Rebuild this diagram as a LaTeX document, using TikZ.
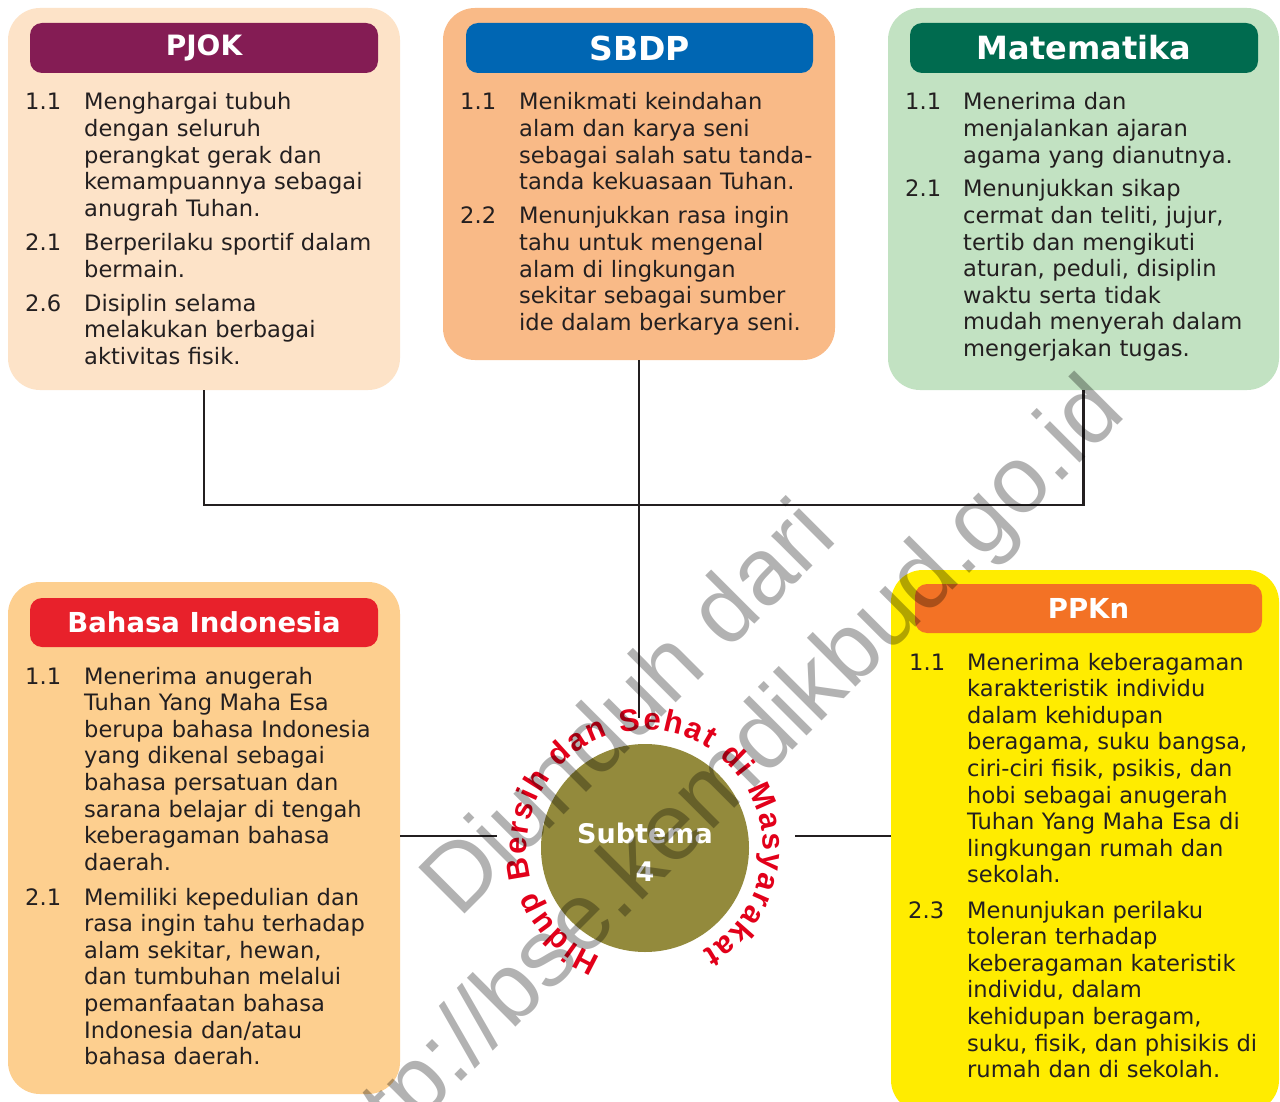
\documentclass[tikz,border=0pt]{standalone}
\usepackage{fontspec}
\setmainfont{DejaVu Sans}
\newfontfamily\wmfont{Liberation Sans}
\newfontfamily\ringfont{Liberation Sans}
\usetikzlibrary{decorations.text}
\definecolor{ink}{HTML}{231F20}
\definecolor{pjokbg}{HTML}{FDE3C8}
\definecolor{pjokhd}{HTML}{841C54}
\definecolor{sbdpbg}{HTML}{F9BA87}
\definecolor{sbdphd}{HTML}{0066B3}
\definecolor{matbg}{HTML}{C2E2C2}
\definecolor{mathd}{HTML}{006B4F}
\definecolor{bibg}{HTML}{FDCF8F}
\definecolor{bihd}{HTML}{E8212B}
\definecolor{ppbg}{HTML}{FFEC00}
\definecolor{pphd}{HTML}{F37225}
\definecolor{subol}{HTML}{938A3C}
\definecolor{hsred}{HTML}{E2001A}
\newcommand\itemfont{\fontsize{22.6}{26.6}\selectfont}
\newcommand\circstyle{\ringfont\fontsize{31}{34}\selectfont\bfseries\color{hsred}}
\tikzset{
 panel/.style={rounded corners=32pt, inner sep=0pt, outer sep=0pt, anchor=north west},
 hdr/.style={rounded corners=12pt, anchor=north west, text=white, inner sep=0pt, outer sep=0pt},
 num/.style={anchor=base west, inner sep=0pt, font=\itemfont, text=ink},
 itm/.style={anchor=base west, inner sep=0pt, font=\itemfont, text=ink, text width=360pt, align=left},
 link/.style={draw=ink, line width=2.5pt},
 wm/.style={rotate=45, anchor=base, text=black, text opacity=0.3, inner sep=0pt, font=\wmfont\fontsize{95}{95}\selectfont},
}
\begin{document}
\begin{tikzpicture}[x=1pt,y=1pt]
\useasboundingbox (0,0) rectangle (1280,-1102);
\fill[white] (0,0) rectangle (1280,-1102);

% panels
\node[panel, fill=pjokbg, minimum width=392pt, minimum height=382pt] (pjok) at (8,-8) {};
\node[panel, fill=sbdpbg, minimum width=392pt, minimum height=352pt] (sbdp) at (443,-8) {};
\node[panel, fill=matbg, minimum width=391pt, minimum height=382pt] (mat) at (888,-8) {};
\node[panel, fill=bibg, minimum width=392pt, minimum height=512pt] (bi) at (8,-582) {};
\node[panel, fill=ppbg, minimum width=388pt, minimum height=542pt] (ppkn) at (891,-570) {};

% headers
\node[hdr, fill=pjokhd, minimum width=348pt, minimum height=50pt, font=\bfseries\fontsize{28}{30}\selectfont] (pjokh) at (30,-23) {PJOK};
\node[hdr, fill=sbdphd, minimum width=347pt, minimum height=50pt, font=\bfseries\fontsize{33}{35}\selectfont] (sbdph) at (466,-23) {SBDP};
\node[hdr, fill=mathd, minimum width=348pt, minimum height=50pt, font=\bfseries\fontsize{32}{34}\selectfont] (math) at (910,-23) {Matematika};
\node[hdr, fill=bihd, minimum width=348pt, minimum height=49pt, font=\bfseries\fontsize{27.5}{30}\selectfont] (bih) at (30,-598) {Bahasa Indonesia};
\node[hdr, fill=pphd, minimum width=347pt, minimum height=49pt, font=\bfseries\fontsize{27.5}{30}\selectfont] (pph) at (915,-584) {PPKn};

% PJOK items
\node[num] (pjn1) at (25,-110) {1.1};
\node[itm] (pjt1) at (84,-110) {Menghargai tubuh\\dengan seluruh\\perangkat gerak dan\\kemampuannya sebagai\\anugrah Tuhan.};
\node[num] (pjn2) at (25,-251) {2.1};
\node[itm] (pjt2) at (84,-251) {Berperilaku sportif dalam\\bermain.};
\node[num] (pjn3) at (25,-311) {2.6};
\node[itm] (pjt3) at (84,-311) {Disiplin selama\\melakukan berbagai\\aktivitas fisik.};

% SBDP items
\node[num] (sbn1) at (460,-110) {1.1};
\node[itm] (sbt1) at (519,-110) {Menikmati keindahan\\alam dan karya seni\\sebagai salah satu tanda-\\tanda kekuasaan Tuhan.};
\node[num] (sbn2) at (460,-224) {2.2};
\node[itm] (sbt2) at (519,-224) {Menunjukkan rasa ingin\\tahu untuk mengenal\\alam di lingkungan\\sekitar sebagai sumber\\ide dalam berkarya seni.};

% Matematika items
\node[num] (man1) at (905,-110) {1.1};
\node[itm] (mat1) at (963,-110) {Menerima dan\\menjalankan ajaran\\agama yang dianutnya.};
\node[num] (man2) at (905,-197) {2.1};
\node[itm] (mat2) at (963,-197) {Menunjukkan sikap\\cermat dan teliti, jujur,\\tertib dan mengikuti\\aturan, peduli, disiplin\\waktu serta tidak\\mudah menyerah dalam\\mengerjakan tugas.};

% Bahasa Indonesia items
\node[num] (bin1) at (25,-684) {1.1};
\node[itm] (bit1) at (84,-684) {Menerima anugerah\\Tuhan Yang Maha Esa\\berupa bahasa Indonesia\\yang dikenal sebagai\\bahasa persatuan dan\\sarana belajar di tengah\\keberagaman bahasa\\daerah.};
\node[num] (bin2) at (25,-905) {2.1};
\node[itm] (bit2) at (84,-905) {Memiliki kepedulian dan\\rasa ingin tahu terhadap\\alam sekitar, hewan,\\dan tumbuhan melalui\\pemanfaatan bahasa\\Indonesia dan/atau\\bahasa daerah.};

% PPKn items
\node[num] (ppn1) at (909,-670) {1.1};
\node[itm] (ppt1) at (967,-670) {Menerima keberagaman\\karakteristik individu\\dalam kehidupan\\beragama, suku bangsa,\\ciri-ciri fisik, psikis, dan\\hobi sebagai anugerah\\Tuhan Yang Maha Esa di\\lingkungan rumah dan\\sekolah.};
\node[num] (ppn2) at (908,-918) {2.3};
\node[itm] (ppt2) at (967,-918) {Menunjukan perilaku\\toleran terhadap\\keberagaman kateristik\\individu, dalam\\kehidupan beragam,\\suku, fisik, dan phisikis di\\rumah dan di sekolah.};

% connectors
\coordinate (ctop) at (639,-718);
\coordinate (cl) at (497,-836);
\coordinate (cr) at (795,-836);
\draw[link] (pjok.south) -- ++(0,-115) -| (mat.south);
\draw[link] (sbdp.south) -- (ctop);
\draw[link] (bi.east |- cl) -- (cl);
\draw[link] (cr) -- (ppkn.west |- cr);

% central circle
\node[circle, fill=subol, minimum size=208pt, inner sep=0pt] (sub) at (645,-848) {};
\node[anchor=base, text=white, inner sep=0pt, font=\bfseries\fontsize{27}{30}\selectfont] (subt) at (645,-843) {Subtema};
\node[anchor=base, text=white, inner sep=0pt, font=\bfseries\fontsize{27}{30}\selectfont] (sub4) at (645,-881) {4};
\path[decorate, decoration={text along path, text={|\circstyle|Hidup Bersih dan Sehat di Masyarakat}, text align=fit to path}]
  (sub.center) ++(248:118) arc[start angle=248, end angle=-61, radius=118];

% watermark
\node[wm] (wm1) at (649.5,-729.5) {Diunduh dari};
\node[wm] (wm2) at (735.5,-807.5) {http://bse.kemdikbud.go.id};
\end{tikzpicture}
\end{document}
